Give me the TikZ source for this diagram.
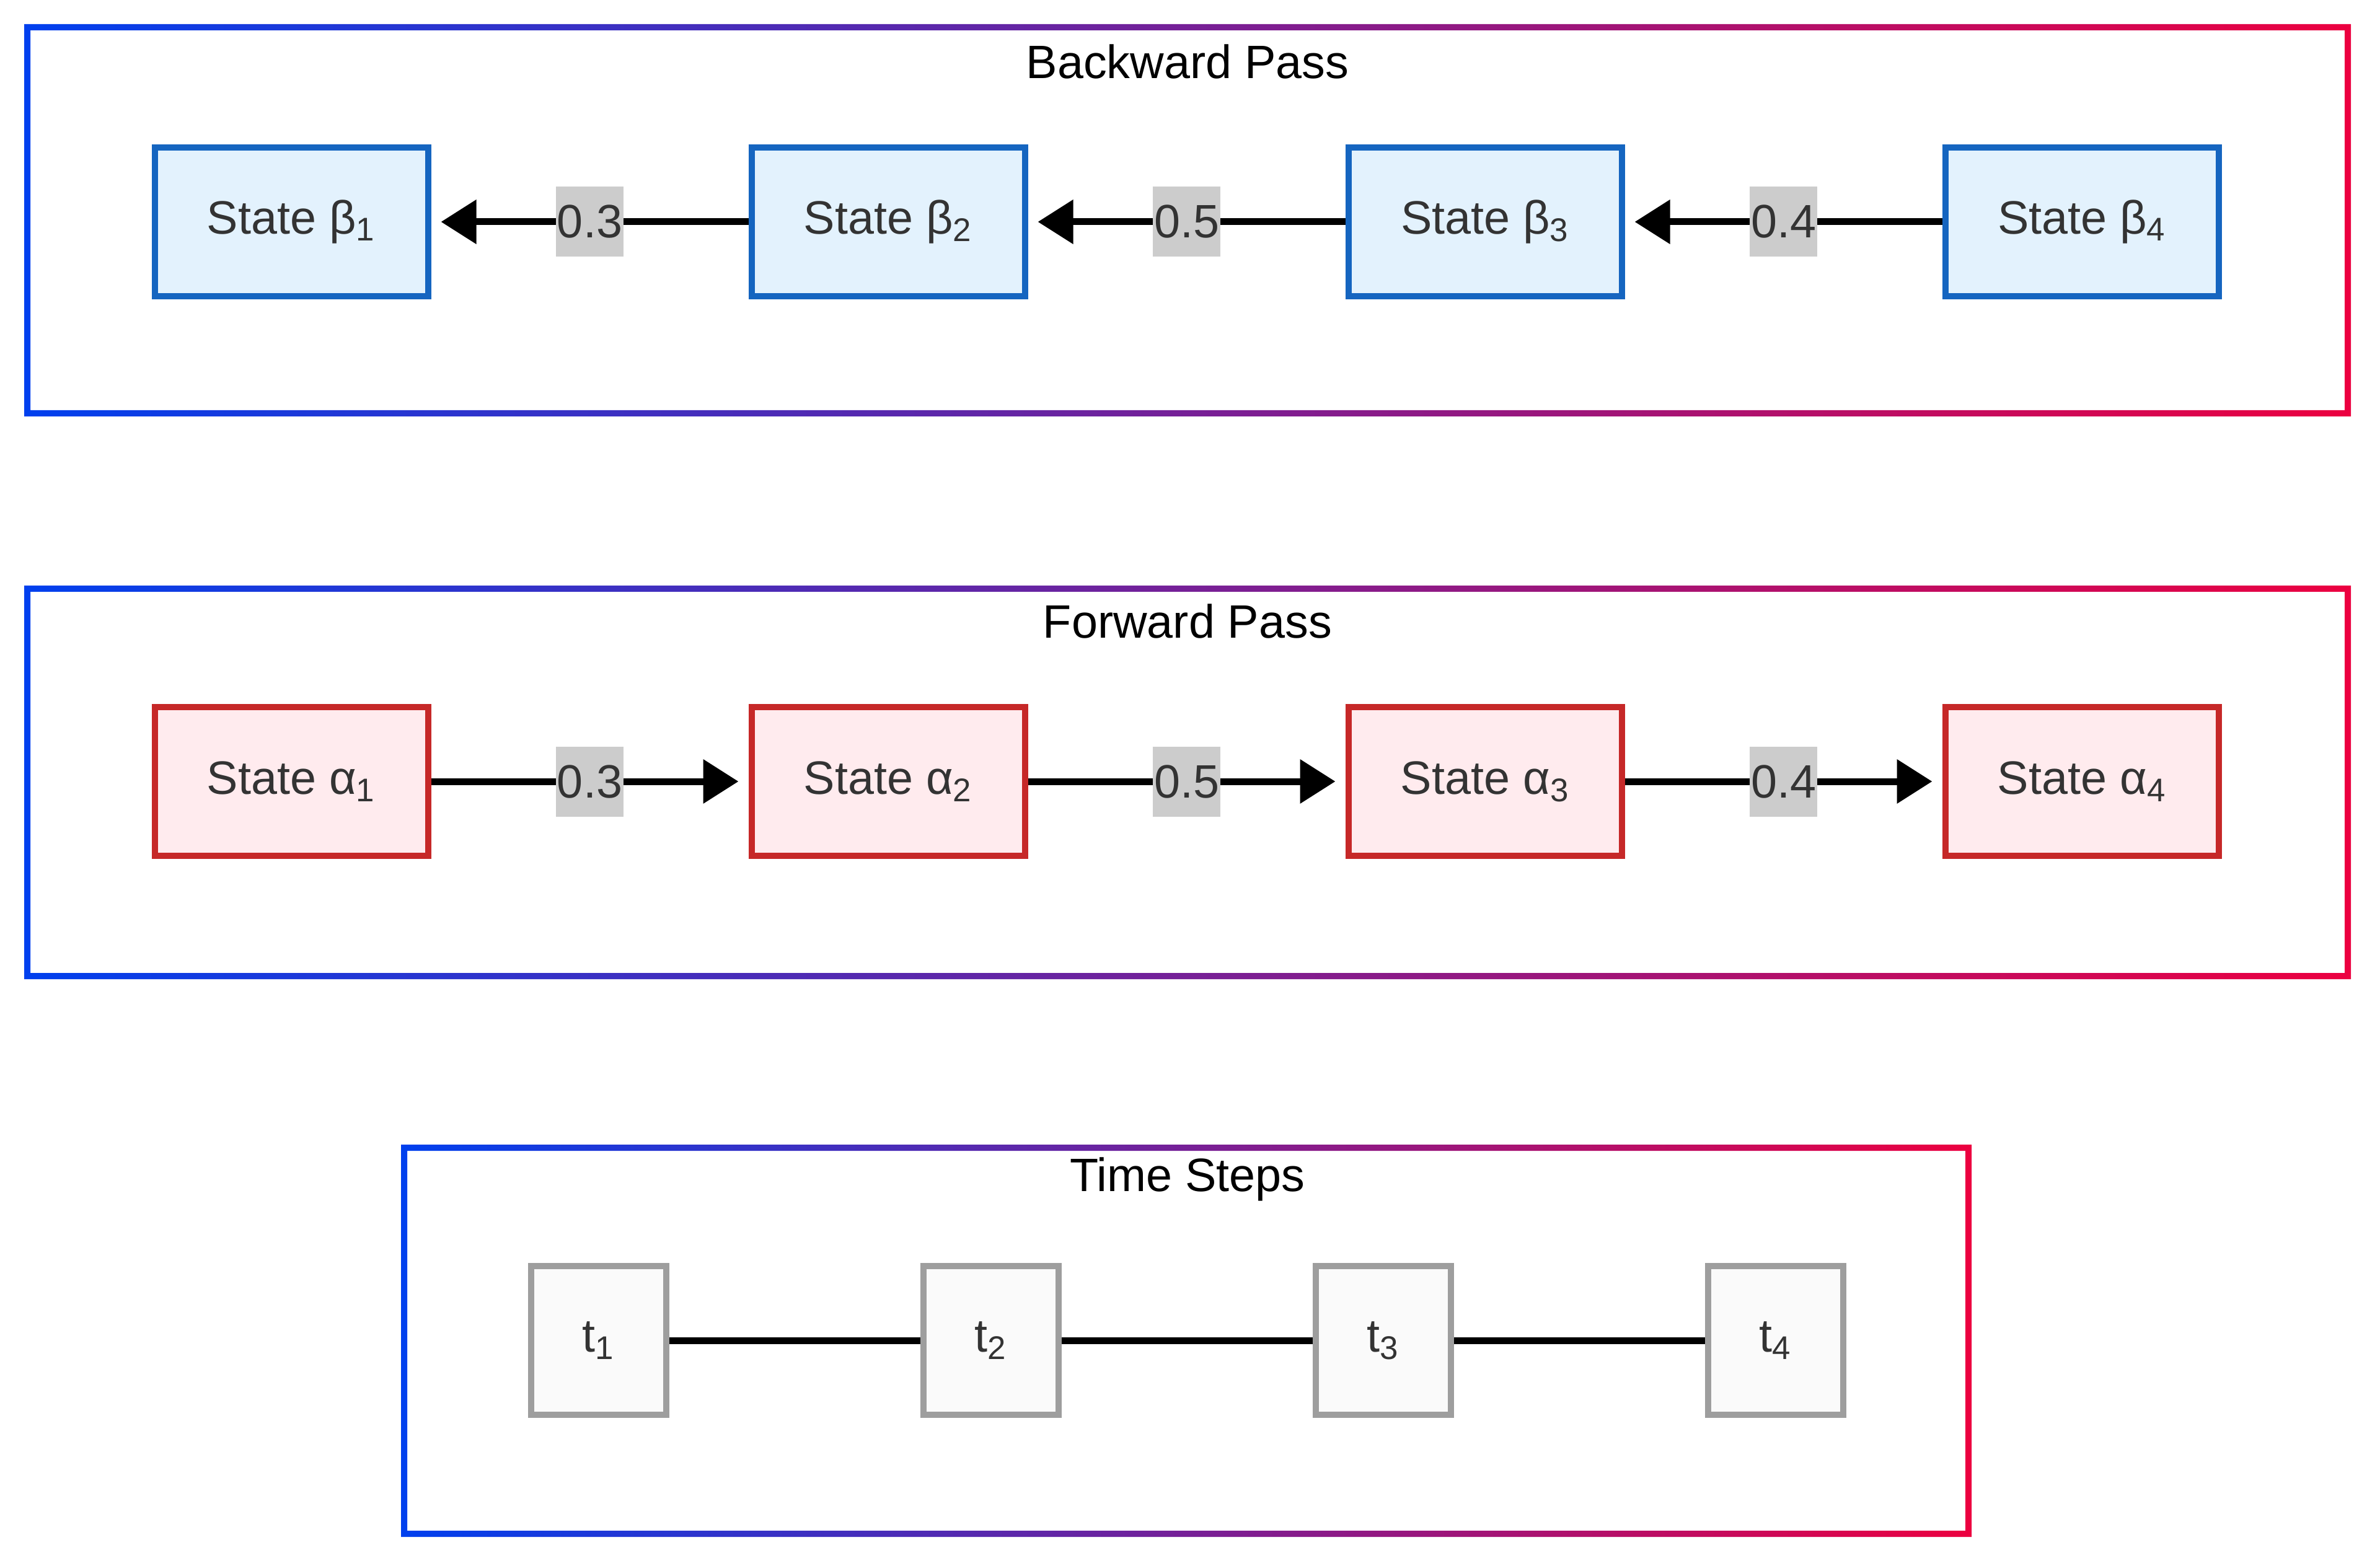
\documentclass[tikz,border=0pt]{standalone}
\usepackage{fontspec}
\setmainfont{Liberation Sans}
\usepackage{xcolor}
\usepackage{tikz}
\usetikzlibrary{positioning, arrows.meta, calc}

\definecolor{gradblue}{HTML}{0040EE}
\definecolor{gradred}{HTML}{EC0040}
\definecolor{bline}{HTML}{1565C0}
\definecolor{bfill}{HTML}{E3F2FD}
\definecolor{aline}{HTML}{C62828}
\definecolor{afill}{HTML}{FFEBEE}
\definecolor{tline}{HTML}{9E9E9E}
\definecolor{tfill}{HTML}{FAFAFA}
\definecolor{wfill}{HTML}{CCCCCC}
\definecolor{textgray}{HTML}{333333}

\begin{document}
\begin{tikzpicture}[
        font=\fontsize{21.5}{26}\selectfont,
        % Styles for the states and time steps
        bstate/.style={
            rectangle, draw=bline, fill=bfill, line width=0.1cm,
            minimum width=4.41cm, minimum height=2.4cm, text=textgray
        },
        astate/.style={
            rectangle, draw=aline, fill=afill, line width=0.1cm,
            minimum width=4.41cm, minimum height=2.4cm, text=textgray
        },
        tstep/.style={
            rectangle, draw=tline, fill=tfill, line width=0.1cm,
            minimum width=2.18cm, minimum height=2.4cm, text=textgray
        },
        weight/.style={
            fill=wfill, text=textgray, inner xsep=0.5pt, inner ysep=0pt,
            minimum height=1.13cm
        },
        edge/.style={
            line width=0.11cm, -{Triangle[length=0.57cm, width=0.69cm]},
            shorten >=0.16cm
        },
        link/.style={line width=0.11cm},
        frametitle/.style={text=black}
    ]

    \useasboundingbox (0,0) rectangle (38.4,-25.27);

    % 1. GRADIENT FRAMES
    \shade[left color=gradblue, right color=gradred, even odd rule]
        (0.39,-0.39) rectangle (37.93,-6.72) (0.49,-0.49) rectangle (37.83,-6.62);
    \shade[left color=gradblue, right color=gradred, even odd rule]
        (0.39,-9.45) rectangle (37.93,-15.8) (0.49,-9.55) rectangle (37.83,-15.7);
    \shade[left color=gradblue, right color=gradred, even odd rule]
        (6.47,-18.47) rectangle (31.81,-24.8) (6.57,-18.57) rectangle (31.71,-24.7);

    \node[frametitle] (backT) at (19.16,-1.0) {Backward Pass};
    \node[frametitle] (forwT) at (19.16,-10.02) {Forward Pass};
    \node[frametitle] (timeT) at (19.16,-19.03) {Time Steps};

    % 2. BACKWARD PASS
    \node[bstate] (b1) at (4.70,-3.58) {State β\textsubscript{1}};
    \node[bstate] (b2) at (14.33,-3.58) {State β\textsubscript{2}};
    \node[bstate] (b3) at (23.96,-3.58) {State β\textsubscript{3}};
    \node[bstate] (b4) at (33.59,-3.58) {State β\textsubscript{4}};

    \draw[edge] (b2) -- node[weight] {0.3} (b1);
    \draw[edge] (b3) -- node[weight] {0.5} (b2);
    \draw[edge] (b4) -- node[weight] {0.4} (b3);

    % 3. FORWARD PASS
    \node[astate] (a1) at (4.70,-12.61) {State α\textsubscript{1}};
    \node[astate] (a2) at (14.33,-12.61) {State α\textsubscript{2}};
    \node[astate] (a3) at (23.96,-12.61) {State α\textsubscript{3}};
    \node[astate] (a4) at (33.59,-12.61) {State α\textsubscript{4}};

    \draw[edge] (a1) -- node[weight] {0.3} (a2);
    \draw[edge] (a2) -- node[weight] {0.5} (a3);
    \draw[edge] (a3) -- node[weight] {0.4} (a4);

    % 4. TIME STEPS
    \node[tstep] (t1) at (9.66,-21.63) {t\textsubscript{1}};
    \node[tstep] (t2) at (15.99,-21.63) {t\textsubscript{2}};
    \node[tstep] (t3) at (22.32,-21.63) {t\textsubscript{3}};
    \node[tstep] (t4) at (28.65,-21.63) {t\textsubscript{4}};

    \draw[link] (t1) -- (t2);
    \draw[link] (t2) -- (t3);
    \draw[link] (t3) -- (t4);

\end{tikzpicture}
\end{document}
